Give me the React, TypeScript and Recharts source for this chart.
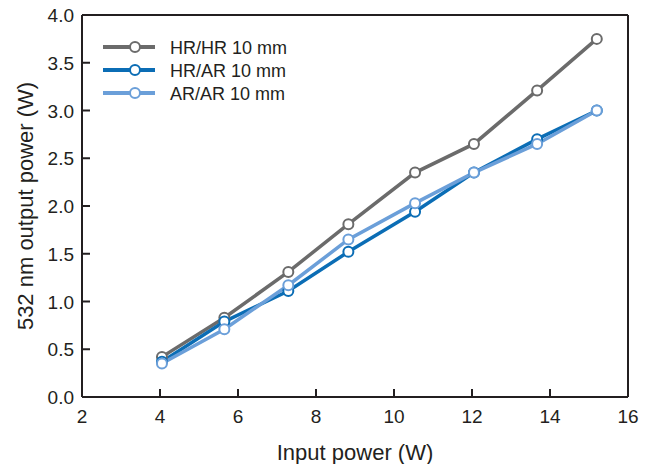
import React from 'react';
import { LineChart, Line, XAxis, YAxis, ReferenceLine } from 'recharts';

const inputPower = [4.05, 5.65, 7.29, 8.83, 10.54, 12.05, 13.67, 15.2];
const hrHr = [0.42, 0.83, 1.31, 1.81, 2.35, 2.65, 3.21, 3.75];
const hrAr = [0.37, 0.79, 1.11, 1.52, 1.94, 2.35, 2.7, 3.0];
const arAr = [0.35, 0.71, 1.17, 1.65, 2.03, 2.35, 2.65, 3.0];
const xTicks = [2, 4, 6, 8, 10, 12, 14, 16];
const yTicks = [0, 0.5, 1, 1.5, 2, 2.5, 3, 3.5, 4];

const series = [
  { key: 'hrHr', name: 'HR/HR 10 mm', color: '#6b6b6b' },
  { key: 'hrAr', name: 'HR/AR 10 mm', color: '#0b6db5' },
  { key: 'arAr', name: 'AR/AR 10 mm', color: '#6b9fd9' },
];

const data = inputPower.map((x, i) => ({ x, hrHr: hrHr[i], hrAr: hrAr[i], arAr: arAr[i] }));

const FONT = '"Liberation Sans", Arial, Helvetica, sans-serif';
const AXIS = '#231f20';

const XTick = (props: any) => {
  const { x, y, payload } = props;
  return (
    <g>
      <line x1={x} y1={y} x2={x} y2={y - 8} stroke={AXIS} strokeWidth={2} />
      <text x={x} y={y + 26} textAnchor="middle" fontSize={19} fill="#231f20" fontFamily={FONT}>
        {payload.value}
      </text>
    </g>
  );
};

const YTick = (props: any) => {
  const { x, y, payload } = props;
  return (
    <g>
      <line x1={x} y1={y} x2={x + 8} y2={y} stroke={AXIS} strokeWidth={2} />
      <text x={x - 8} y={y + 7} textAnchor="end" fontSize={19} fill="#231f20" fontFamily={FONT}>
        {Number(payload.value).toFixed(1)}
      </text>
    </g>
  );
};

const LegendBox = () => (
  <svg width={240} height={80} style={{ position: 'absolute', left: 100, top: 37 }}>
    {series.map((s, i) => (
      <g key={s.key} transform={`translate(0, ${i * 23 + 10})`}>
        <line x1={3} y1={0} x2={55} y2={0} stroke={s.color} strokeWidth={4} />
        <circle cx={35} cy={0} r={5} fill="#fff" stroke={s.color} strokeWidth={2} />
        <text x={70} y={6.5} fontSize={18} fill="#231f20" fontFamily={FONT}>
          {s.name}
        </text>
      </g>
    ))}
  </svg>
);

export default function App() {
  return (
    <div style={{ position: 'absolute', left: 0, top: 0, width: 652, height: 464, background: '#fff' }}>
      <LineChart width={652} height={464} data={data} margin={{ top: 15, right: 24, left: 0, bottom: 0 }}>
        <XAxis
          dataKey="x"
          type="number"
          domain={[2, 16]}
          ticks={xTicks}
          height={67}
          tickSize={0}
          tickMargin={0}
          tickLine={false}
          axisLine={{ stroke: AXIS, strokeWidth: 2 }}
          tick={<XTick />}
          label={{ value: 'Input power (W)', position: 'insideBottom', offset: 4, fontSize: 22, fill: '#231f20', fontFamily: FONT }}
        />
        <YAxis
          type="number"
          domain={[0, 4]}
          ticks={yTicks}
          width={82}
          tickSize={0}
          tickMargin={0}
          tickLine={false}
          axisLine={{ stroke: AXIS, strokeWidth: 2 }}
          tick={<YTick />}
          label={{ value: '532 nm output power (W)', angle: -90, position: 'insideLeft', offset: 25, style: { textAnchor: 'middle' }, fontSize: 22, fill: '#231f20', fontFamily: FONT }}
        />
        <ReferenceLine y={4} stroke={AXIS} strokeWidth={2} />
        <ReferenceLine x={16} stroke={AXIS} strokeWidth={2} />
        {series.map((s) => (
          <Line
            key={s.key}
            dataKey={s.key}
            name={s.name}
            stroke={s.color}
            strokeWidth={3.5}
            dot={{ r: 5, fill: '#fff', stroke: s.color, strokeWidth: 2 }}
            isAnimationActive={false}
          />
        ))}
      </LineChart>
      <LegendBox />
    </div>
  );
}
